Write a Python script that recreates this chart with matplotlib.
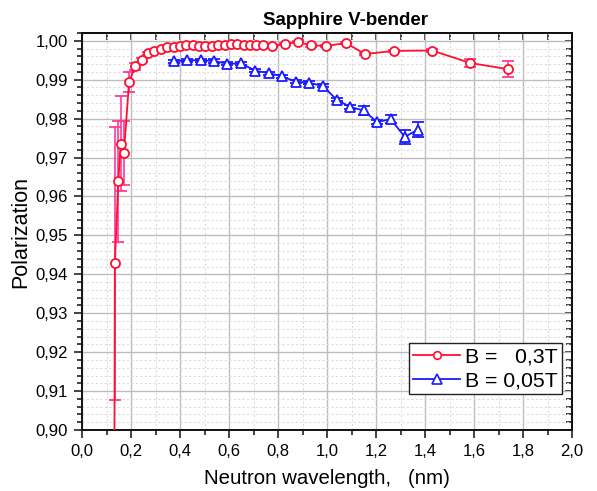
import matplotlib
matplotlib.use("Agg")
import matplotlib.pyplot as plt
from matplotlib.lines import Line2D
from matplotlib.ticker import MultipleLocator, FuncFormatter

plt.rcParams["font.family"] = ["Liberation Sans", "DejaVu Sans"]

# B = 0,3T
wl_03 = [0.131, 0.134, 0.148, 0.158, 0.171, 0.192, 0.217, 0.243, 0.269, 0.295,
         0.321, 0.348, 0.374, 0.400, 0.426, 0.452, 0.478, 0.503, 0.529, 0.556,
         0.582, 0.608, 0.634, 0.660, 0.686, 0.712, 0.737, 0.777, 0.829, 0.882,
         0.933, 0.997, 1.078, 1.155, 1.273, 1.429, 1.584, 1.739]
pol_03 = [0.860, 0.9428, 0.9639, 0.9736, 0.9712, 0.9895, 0.9934, 0.9951, 0.9968, 0.9974,
          0.9979, 0.9983, 0.9983, 0.9987, 0.9988, 0.9988, 0.9986, 0.9987, 0.9987, 0.9989,
          0.9988, 0.9991, 0.9992, 0.9990, 0.9989, 0.9989, 0.9989, 0.9986, 0.9992, 0.9997,
          0.9988, 0.9987, 0.9994, 0.9966, 0.9974, 0.9975, 0.9943, 0.9927]
err_03 = [0.030, 0.035, 0.0155, 0.0123, 0.0083, 0.0026, 0.0008, 0.0005, 0.0004, 0.0003,
          0.0003, 0.0003, 0.0003, 0.0003, 0.0003, 0.0003, 0.0003, 0.0003, 0.0003, 0.0003,
          0.0003, 0.0003, 0.0003, 0.0003, 0.0003, 0.0003, 0.0003, 0.0003, 0.0003, 0.0003,
          0.0003, 0.0003, 0.0003, 0.0003, 0.0003, 0.0003, 0.0011, 0.0020]

# B = 0,05T
wl_005 = [0.376, 0.429, 0.484, 0.539, 0.593, 0.650, 0.707, 0.762, 0.815, 0.872,
          0.927, 0.982, 1.039, 1.094, 1.149, 1.205, 1.260, 1.317, 1.371]
pol_005 = [0.9947, 0.9950, 0.9950, 0.9948, 0.9941, 0.9942, 0.9923, 0.9917, 0.9909, 0.9895,
           0.9892, 0.9884, 0.9849, 0.9830, 0.9821, 0.9791, 0.9799, 0.9753, 0.9772]
err_005 = [0.0004, 0.0004, 0.0004, 0.0004, 0.0004, 0.0004, 0.0004, 0.0004, 0.0004, 0.0004,
           0.0004, 0.0004, 0.0004, 0.0005, 0.0012, 0.0005, 0.0010, 0.0019, 0.0020]

red = "#ff1030"
pink = "#ff3a9a"
blue = "#1a1aff"

fig = plt.figure(figsize=(5.97, 4.91), dpi=100)
ax = fig.add_axes([0.1374, 0.1242, 0.8208, 0.8086])

ax.errorbar(wl_03, pol_03, yerr=err_03, color=red, lw=1.3,
            marker="o", ms=6.5, mfc="white", mec=red, mew=1.3,
            ecolor=pink, elinewidth=1.2, capsize=4, capthick=1.2, zorder=3)
ax.errorbar(wl_005, pol_005, yerr=err_005, color=blue, lw=1.3,
            marker="^", ms=7, mfc="white", mec=blue, mew=1.3,
            ecolor=blue, elinewidth=1.2, capsize=4, capthick=1.2, zorder=3)

ax.set_xlim(0, 2.0)
ax.set_ylim(0.90, 1.002)

ax.xaxis.set_major_locator(MultipleLocator(0.2))
ax.xaxis.set_minor_locator(MultipleLocator(0.1))
ax.yaxis.set_major_locator(MultipleLocator(0.01))
ax.yaxis.set_minor_locator(MultipleLocator(0.002))

comma = lambda fmt: FuncFormatter(lambda v, p: (fmt % v).replace(".", ","))
ax.xaxis.set_major_formatter(comma("%.1f"))
ax.yaxis.set_major_formatter(comma("%.2f"))

ax.grid(which="major", color="#bdbdbd", lw=1.0, ls="-", zorder=0)
ax.grid(which="minor", color="#dcdcdc", lw=0.8, ls=(0, (2, 2)), zorder=0)
ax.set_axisbelow(True)

ax.tick_params(which="both", direction="out", top=False, right=False,
               labelsize=12, width=1.2, color="#222222", pad=4)
ax.tick_params(which="major", length=6)
ax.tick_params(which="minor", length=3.5)

# mirrored inward ticks on the top and right edges
sec_x = ax.secondary_xaxis("top")
sec_x.xaxis.set_major_locator(MultipleLocator(0.2))
sec_x.xaxis.set_minor_locator(MultipleLocator(0.1))
sec_x.tick_params(which="both", direction="in", labeltop=False, width=1.2,
                  color="#222222", length=5)
sec_y = ax.secondary_yaxis("right")
sec_y.yaxis.set_major_locator(MultipleLocator(0.01))
sec_y.yaxis.set_minor_locator(MultipleLocator(0.002))
sec_y.tick_params(which="both", direction="in", labelright=False, width=1.2,
                  color="#222222")
sec_y.tick_params(which="major", length=5)
sec_y.tick_params(which="minor", length=4)

for side in ["top", "bottom", "left", "right"]:
    ax.spines[side].set_linewidth(1.4)
    ax.spines[side].set_color("#111111")
sec_x.spines["top"].set_linewidth(1.4)
sec_y.spines["right"].set_linewidth(1.4)

ax.set_title("Sapphire V-bender", fontsize=13.5, fontweight="bold", pad=6, x=0.537)
ax.set_xlabel("Neutron wavelength,   (nm)", fontsize=14.7, labelpad=7)
ax.set_ylabel("Polarization", fontsize=15.5, labelpad=3)

handles = [
    Line2D([], [], color=red, lw=1.3, marker="o", ms=5.5, mfc="white", mec=red, mew=1.2),
    Line2D([], [], color=blue, lw=1.3, marker="^", ms=6.5, mfc="white", mec=blue, mew=1.2),
]
leg = ax.legend(handles, ["B =   0,3T", "B = 0,05T"], loc="lower right",
                bbox_to_anchor=(0.98, 0.09), fontsize=15.3,
                fancybox=False, edgecolor="#222222", framealpha=1,
                handlelength=2.2, borderpad=0.2, borderaxespad=0,
                labelspacing=0.22, handletextpad=0.25)
leg.get_frame().set_linewidth(1.0)

fig.savefig("out.png", dpi=100)
